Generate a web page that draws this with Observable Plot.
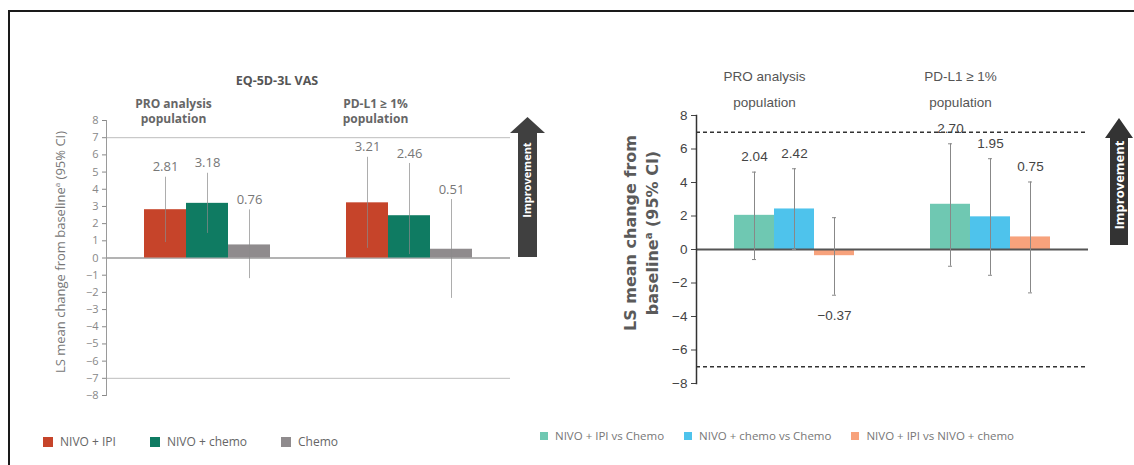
<!DOCTYPE html>
<html><head><meta charset="utf-8">
<script src="https://cdn.jsdelivr.net/npm/d3@7"></script>
<script src="https://cdn.jsdelivr.net/npm/@observablehq/plot@0.6"></script>
<style>
body{margin:0;background:#fff;}
#wrap{position:relative;width:1134px;height:465px;overflow:hidden;background:#fff;font-family:"Open Sans",Lato,sans-serif;}
.abs{position:absolute;}
.box{left:8px;top:10px;width:1200px;height:500px;border:2px solid #1a1a1a;box-sizing:border-box;}
.title{left:177px;top:73px;width:200px;text-align:center;font-weight:bold;font-size:12.5px;color:#555;line-height:16px;}
.ylab{white-space:nowrap;transform:translate(-50%,-50%) rotate(-90deg);text-align:center;}
.legend{display:flex;align-items:center;white-space:nowrap;}
.legend .item{display:flex;align-items:center;}
.legend .sw{display:inline-block;}
</style></head>
<body><div id="wrap">
<div class="abs box"></div>
<div class="abs title">EQ-5D-3L VAS</div>
<div class="abs ylab" style="left:60px;top:252px;font-size:13px;color:#777;">LS mean change from baseline<sup style="font-size:8px">a</sup> (95% CI)</div>
<div class="abs ylab" style="left:642px;top:233px;font-family:'DejaVu Sans',sans-serif;font-size:16px;line-height:18px;font-weight:bold;color:#5a5a5a;">LS mean change from<br>baseline<sup style="font-size:10px">a</sup> (95% CI)</div>
</div>
<script>
// ---- data ----
const groups = ["PRO analysis population", "PD-L1 ≥ 1% population"];
const groupHeaders = ["PRO analysis\npopulation", "PD-L1 ≥ 1%\npopulation"];

const leftSeries = ["NIVO + IPI", "NIVO + chemo", "Chemo"];
const leftColors = ["#c6442a", "#0f7b62", "#8f8b8d"];
const leftMeansPRO = [2.81, 3.18, 0.76];
const leftLowerPRO = [0.90, 1.43, -1.20];
const leftUpperPRO = [4.70, 4.93, 2.80];
const leftMeansPDL1 = [3.21, 2.46, 0.51];
const leftLowerPDL1 = [0.56, 0.20, -2.35];
const leftUpperPDL1 = [5.86, 5.50, 3.40];
const leftTicks = [-8, -7, -6, -5, -4, -3, -2, -1, 0, 1, 2, 3, 4, 5, 6, 7, 8];

const rightSeries = ["NIVO + IPI vs Chemo", "NIVO + chemo vs Chemo", "NIVO + IPI vs NIVO + chemo"];
const rightColors = ["#6fc8b2", "#4ec3ec", "#f7a27c"];
const rightMeansPRO = [2.04, 2.42, -0.37];
const rightLowerPRO = [-0.60, 0.00, -2.73];
const rightUpperPRO = [4.62, 4.82, 1.90];
const rightMeansPDL1 = [2.70, 1.95, 0.75];
const rightLowerPDL1 = [-1.00, -1.54, -2.59];
const rightUpperPDL1 = [6.31, 5.42, 4.03];
const rightTicks = [-8, -6, -4, -2, 0, 2, 4, 6, 8];

const referenceLines = [7, -7];

// ---- build tables ----
function buildRows(series, means, lowers, uppers) {
  return groups.flatMap((g, gi) => series.map((s, si) => ({
    group: g, series: s, mean: means[gi][si], lo: lowers[gi][si], hi: uppers[gi][si]
  })));
}
const leftRows = buildRows(leftSeries, [leftMeansPRO, leftMeansPDL1], [leftLowerPRO, leftLowerPDL1], [leftUpperPRO, leftUpperPDL1]);
const rightRows = buildRows(rightSeries, [rightMeansPRO, rightMeansPDL1], [rightLowerPRO, rightLowerPDL1], [rightUpperPRO, rightUpperPDL1]);
const fmt = d3.format(".2f");
const header = d => groupHeaders[groups.indexOf(d)];

const wrap = document.getElementById("wrap");
function place(el, left, top) {
  el.style.position = "absolute";
  el.style.left = left + "px";
  el.style.top = top + "px";
  el.style.background = "transparent";
  wrap.appendChild(el);
}

// ---- left chart ----
const leftPlot = Plot.plot({
  width: 560, height: 345,
  marginLeft: 106, marginRight: 50, marginTop: 60, marginBottom: 10,
  style: {fontFamily: "'Open Sans', Lato, sans-serif", background: "transparent", overflow: "visible"},
  fx: {domain: groups, padding: 0, axis: null},
  x: {domain: leftSeries, paddingInner: 0, paddingOuter: 0.9, axis: null},
  y: {domain: [-8, 8]},
  color: {domain: leftSeries, range: leftColors},
  marks: [
    Plot.ruleY(referenceLines, {stroke: "#bdbdbd", strokeWidth: 1}),
    Plot.ruleY([0], {stroke: "#9a9a9a", strokeWidth: 1.5}),
    Plot.frame({anchor: "left", stroke: "#9a9a9a", facet: "super"}),
    Plot.axisY(leftTicks, {tickSize: 4, tickPadding: 4, fontSize: 11, color: "#888", label: null}),
    Plot.barY(leftRows, {fx: "group", x: "series", y: "mean", fill: "series", inset: 0}),
    Plot.ruleX(leftRows, {fx: "group", x: "series", y1: "lo", y2: "hi", stroke: "#8a8a8a", strokeOpacity: 0.7}),
    Plot.text(leftRows, {fx: "group", x: "series", y: "hi", text: d => fmt(d.mean), dy: -10, fill: "#777", fontSize: 13}),
    Plot.text(groups, {fx: d => d, text: header, frameAnchor: "top", lineAnchor: "middle", dy: -9.5, dx: -34, fontWeight: "bold", fontSize: 12, fill: "#666", lineHeight: 1.25})
  ]
});
place(leftPlot, 0, 60);

// ---- right chart ----
const narrow = "'Liberation Sans Narrow', 'Liberation Sans', sans-serif";
const rightPlot = Plot.plot({
  width: 574, height: 353,
  marginLeft: 135, marginRight: 46, marginTop: 75, marginBottom: 10,
  style: {fontFamily: narrow, background: "transparent", overflow: "visible"},
  fx: {domain: groups, padding: 0, axis: null},
  x: {domain: rightSeries, paddingInner: 0, paddingOuter: 0.9, axis: null},
  y: {domain: [-8, 8]},
  color: {domain: rightSeries, range: rightColors},
  marks: [
    Plot.ruleY(referenceLines, {stroke: "#333", strokeWidth: 1.5, strokeDasharray: "4,3"}),
    Plot.axisY(rightTicks, {tickSize: 5, tickPadding: 4, fontSize: 13.5, color: "#444", label: null}),
    Plot.barY(rightRows, {fx: "group", x: "series", y: "mean", fill: "series", inset: 0}),
    Plot.ruleY([0], {stroke: "#555", strokeWidth: 2}),
    Plot.frame({anchor: "left", stroke: "#333", strokeWidth: 1.5, facet: "super"}),
    Plot.ruleX(rightRows, {fx: "group", x: "series", y1: "lo", y2: "hi", stroke: "#888", strokeWidth: 1}),
    Plot.tickY(rightRows, {fx: "group", x: "series", y: "hi", stroke: "#888", inset: 18}),
    Plot.tickY(rightRows, {fx: "group", x: "series", y: "lo", stroke: "#888", inset: 18}),
    Plot.text(rightRows.filter(d => d.mean >= 0), {fx: "group", x: "series", y: "hi", text: d => fmt(d.mean), dy: -15, fill: "#444", fontSize: 13.5}),
    Plot.text(rightRows.filter(d => d.mean < 0), {fx: "group", x: "series", y: "lo", text: d => fmt(d.mean), dy: 20, fill: "#444", fontSize: 13.5}),
    Plot.text(groups, {fx: d => d, text: header, frameAnchor: "top", lineAnchor: "middle", dy: -29.5, dx: -30, fontSize: 13.5, fill: "#555", lineHeight: 1.9})
  ]
});
place(rightPlot, 560, 40);

// ---- legends ----
function legend(series, colors, left, top, gap, sw, fontSize, color) {
  const div = document.createElement("div");
  div.className = "abs legend";
  div.style.left = left + "px";
  div.style.top = top + "px";
  div.style.gap = gap + "px";
  div.style.fontSize = fontSize + "px";
  div.style.color = color;
  series.forEach((s, i) => {
    const it = document.createElement("div");
    it.className = "item";
    const b = document.createElement("span");
    b.className = "sw";
    b.style.width = sw + "px"; b.style.height = sw + "px";
    b.style.background = colors[i];
    b.style.marginRight = "7px";
    const t = document.createElement("span");
    t.textContent = s;
    it.appendChild(b); it.appendChild(t);
    div.appendChild(it);
  });
  wrap.appendChild(div);
}
legend(leftSeries, leftColors, 43, 433, 34, 10, 12, "#666");
legend(rightSeries, rightColors, 540, 428, 20, 8, 11.5, "#777");

// ---- improvement arrows (decoration) ----
const ns = "http://www.w3.org/2000/svg";
const ov = document.createElementNS(ns, "svg");
ov.setAttribute("width", 1134); ov.setAttribute("height", 465);
ov.style.position = "absolute"; ov.style.left = "0"; ov.style.top = "0";
function arrow(cx, top, headBase, headHalf, shaftHalf, bottom, textY, fill, fs) {
  const p = document.createElementNS(ns, "polygon");
  const pts = [[cx, top], [cx + headHalf, headBase], [cx + shaftHalf, headBase], [cx + shaftHalf, bottom],
    [cx - shaftHalf, bottom], [cx - shaftHalf, headBase], [cx - headHalf, headBase]];
  p.setAttribute("points", pts.map(d => d.join(",")).join(" "));
  p.setAttribute("fill", fill);
  ov.appendChild(p);
  const t = document.createElementNS(ns, "text");
  t.setAttribute("transform", `translate(${cx},${textY}) rotate(-90)`);
  t.setAttribute("text-anchor", "middle");
  t.setAttribute("dy", "0.35em");
  t.setAttribute("fill", "#fff");
  t.setAttribute("font-weight", "bold");
  t.setAttribute("font-size", fs);
  t.setAttribute("font-family", "'Open Sans', Lato, sans-serif");
  t.textContent = "Improvement";
  ov.appendChild(t);
}
arrow(527.5, 117, 133, 17.5, 9.5, 257, 180, "#404040", 11);
arrow(1119, 118, 138, 14, 9, 245, 185, "#333", 13);
wrap.appendChild(ov);
</script>
</body></html>
